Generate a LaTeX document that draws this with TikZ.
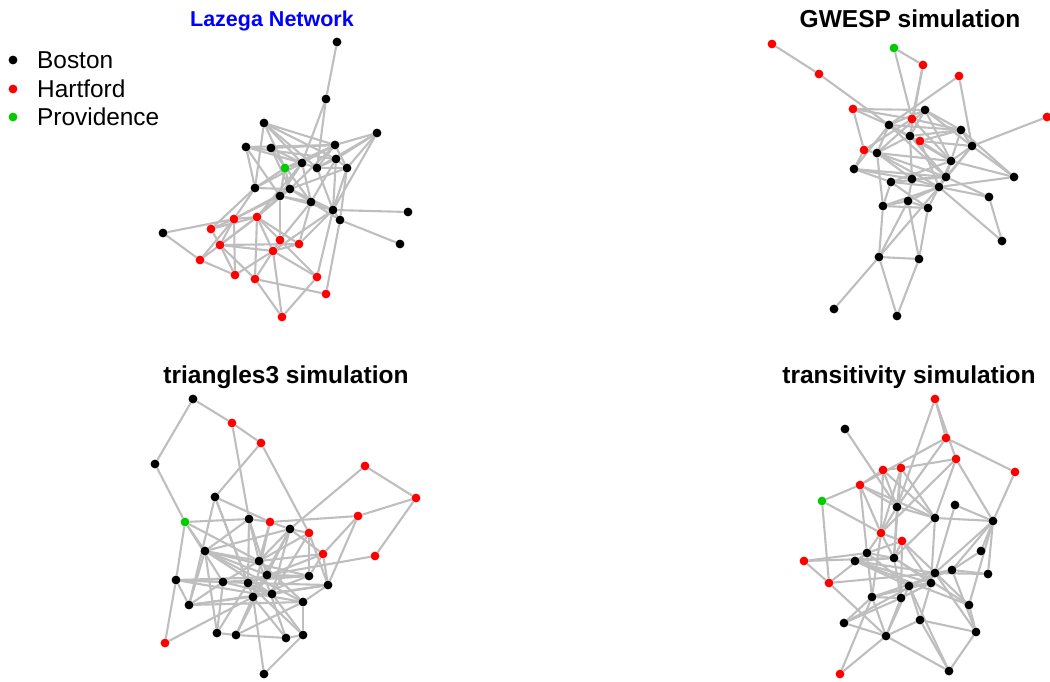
\documentclass[tikz,border=0pt]{standalone}
\usepackage{fontspec}
\setmainfont{Liberation Sans}
\pgfdeclarelayer{edges}
\pgfsetlayers{edges,main}
\definecolor{edgegray}{RGB}{190,190,190}
\definecolor{vred}{RGB}{255,0,0}
\definecolor{vgreen}{RGB}{0,205,0}
\definecolor{titleblue}{RGB}{0,0,255}
\tikzset{
  vtx/.style={circle,inner sep=0pt,minimum size=8.8pt,draw=none},
  tie/.style={draw=edgegray,line width=2.1pt},
  ptitle/.style={font=\fontsize{24.5}{28}\selectfont\bfseries,anchor=base,inner sep=0pt},
  legtext/.style={font=\fontsize{24.4}{28}\selectfont,anchor=base west,inner sep=0pt}
}
\begin{document}
\begin{tikzpicture}[x=1pt,y=-1pt]
\useasboundingbox (0,0) rectangle (1050,681);

% ---------- titles ----------
\node[ptitle,text=titleblue,font=\fontsize{21.5}{26}\selectfont\bfseries] (t1) at (272,26) {Lazega Network};
\node[ptitle] (t2) at (910,27) {GWESP simulation};
\node[ptitle] (t3) at (286,383) {triangles3 simulation};
\node[ptitle] (t4) at (909,383) {transitivity simulation};

% ---------- legend ----------
\node[vtx,fill=black] (lg1) at (13,60) {};
\node[vtx,fill=vred] (lg2) at (13,89) {};
\node[vtx,fill=vgreen] (lg3) at (13,117) {};
\node[legtext] (lt1) at (37,68) {Boston};
\node[legtext] (lt2) at (37,97) {Hartford};
\node[legtext] (lt3) at (37,125) {Providence};

% ---------- Lazega network ----------
\foreach \n/\x/\y/\c in {p1/337/42/black, p2/326/99/black, p3/264/123/black, p4/377/133/black,
  p5/246/147/black, p6/271/148/black, p7/335/145/black, p8/336/159/black, p9/302/163/black,
  p10/317/168/black, p11/347/168/black, p12/255/188/black, p13/290/189/black, p14/280/196/black,
  p15/311/202/black, p16/333/210/black, p17/340/220/black, p18/408/212/black, p19/400/244/black,
  p20/163/233/black, p21/285/168/vgreen, p22/234/219/vred, p23/257/217/vred, p24/211/229/vred,
  p25/220/245/vred, p26/280/240/vred, p27/299/244/vred, p28/273/251/vred, p29/200/260/vred,
  p30/235/275/vred, p31/255/279/vred, p32/317/277/vred, p33/326/294/vred, p34/282/317/vred}
  \node[vtx,fill=\c] (\n) at (\x,\y) {};
\begin{pgfonlayer}{edges}
\foreach \a/\b in {p1/p2, p2/p9, p2/p10, p3/p9, p3/p10, p3/p12, p3/p21, p3/p8, p4/p8, p4/p11,
  p4/p10, p5/p9, p5/p14, p5/p12, p5/p8, p6/p7, p6/p13, p6/p15, p7/p11, p7/p10, p7/p9, p7/p21,
  p7/p13, p18/p16, p19/p17, p20/p22, p20/p29, p34/p31, p34/p32, p34/p28, p33/p17, p31/p33,
  p32/p26, p32/p16, p32/p28, p29/p30, p29/p23, p29/p22, p30/p28, p30/p25, p30/p22, p31/p23,
  p31/p28, p31/p25, p28/p26, p28/p27, p28/p16, p28/p25, p28/p23, p26/p14, p26/p23, p26/p15,
  p27/p15, p27/p23, p27/p16, p27/p25, p24/p22, p24/p23, p24/p12, p24/p25, p22/p23, p22/p12,
  p22/p14, p22/p25, p22/p13, p25/p23, p23/p13, p23/p14, p23/p9, p12/p21, p12/p9, p14/p16,
  p14/p15, p13/p11, p13/p15, p15/p16, p15/p9, p15/p8, p15/p17, p16/p11, p16/p8, p16/p10,
  p16/p17, p17/p11, p21/p9, p21/p14, p9/p10, p10/p8, p8/p11, p10/p11, p5/p7, p6/p9, p3/p7,
  p12/p13, p14/p9, p13/p16, p21/p13, p4/p7, p4/p16}
  \draw[tie] (\a) -- (\b);
\end{pgfonlayer}

% ---------- GWESP simulation ----------
\foreach \n/\x/\y/\c in {q1/772/44/vred, q2/819/74/vred, q3/923/65/vred, q4/959/76/vred,
  q5/1047/117/vred, q6/853/109/vred, q7/912/119/vred, q8/920/141/vred, q9/864/150/vred,
  q10/894/48/vgreen, q11/925/110/black, q12/889/125/black, q13/961/130/black, q14/910/136/black,
  q15/972/146/black, q16/877/153/black, q17/951/161/black, q18/854/169/black, q19/1014/177/black,
  q20/891/182/black, q21/912/179/black, q22/946/177/black, q23/939/187/black, q24/989/197/black,
  q25/908/201/black, q26/883/206/black, q27/928/208/black, q28/1002/241/black, q29/879/257/black,
  q30/919/259/black, q31/834/309/black, q32/897/316/black}
  \node[vtx,fill=\c] (\n) at (\x,\y) {};
\begin{pgfonlayer}{edges}
\foreach \a/\b in {q1/q2, q2/q12, q10/q3, q10/q7, q3/q7, q3/q14, q4/q12, q4/q15, q5/q15,
  q6/q12, q6/q7, q6/q9, q15/q19, q15/q17, q15/q11, q15/q13, q15/q8, q15/q23, q19/q17, q19/q23,
  q19/q13, q24/q28, q24/q23, q24/q22, q28/q23, q29/q30, q29/q31, q29/q32, q30/q32, q29/q26,
  q29/q25, q29/q23, q30/q27, q30/q25, q26/q27, q26/q25, q26/q20, q26/q23, q26/q16, q27/q23,
  q27/q25, q27/q20, q25/q23, q25/q21, q18/q20, q18/q9, q18/q12, q18/q22, q18/q21, q12/q11,
  q12/q14, q12/q16, q12/q17, q11/q13, q11/q14, q11/q17, q13/q14, q13/q8, q13/q17, q14/q21,
  q14/q22, q14/q16, q8/q23, q16/q17, q16/q21, q16/q22, q9/q16, q9/q7, q7/q13, q7/q17, q20/q23,
  q21/q22, q22/q17, q23/q17, q20/q17, q15/q22, q12/q13, q11/q16, q14/q17, q16/q23, q20/q22,
  q21/q23, q12/q22, q8/q17, q6/q11}
  \draw[tie] (\a) -- (\b);
\end{pgfonlayer}

% ---------- triangles3 simulation ----------
\foreach \n/\x/\y/\c in {r1/193/399/black, r2/155/464/black, r3/215/497/black, r4/249/519/black,
  r5/290/529/black, r6/205/551/black, r7/259/561/black, r8/267/575/black, r9/309/576/black,
  r10/176/580/black, r11/223/582/black, r12/248/583/black, r13/328/585/black, r14/253/597/black,
  r15/272/594/black, r16/303/602/black, r17/189/605/black, r18/217/633/black, r19/236/635/black,
  r20/286/638/black, r21/303/635/black, r22/264/674/black, r23/232/423/vred, r24/261/443/vred,
  r25/365/466/vred, r26/416/498/vred, r27/270/522/vred, r28/358/516/vred, r29/309/533/vred,
  r30/323/554/vred, r31/375/556/vred, r32/165/643/vred, r33/185/522/vgreen}
  \node[vtx,fill=\c] (\n) at (\x,\y) {};
\begin{pgfonlayer}{edges}
\foreach \a/\b in {r1/r23, r23/r24, r1/r2, r2/r33, r23/r4, r24/r3, r24/r29, r25/r26, r25/r5,
  r26/r28, r26/r31, r28/r27, r28/r30, r28/r13, r33/r4, r33/r6, r33/r10, r33/r7, r33/r11, r3/r27,
  r3/r17, r3/r14, r3/r12, r31/r8, r6/r4, r6/r5, r6/r8, r6/r9, r6/r16, r6/r18, r6/r17, r6/r7,
  r10/r17, r10/r32, r10/r11, r10/r12, r10/r9, r32/r14, r17/r15, r17/r16, r17/r11, r11/r18,
  r11/r7, r11/r15, r18/r19, r19/r20, r20/r21, r21/r16, r19/r14, r19/r16, r18/r12, r19/r8,
  r22/r14, r22/r21, r20/r14, r20/r7, r21/r15, r21/r12, r13/r16, r13/r30, r13/r29, r13/r15,
  r9/r29, r9/r30, r9/r8, r9/r14, r30/r5, r30/r7, r30/r12, r7/r4, r7/r27, r7/r5, r7/r16, r7/r29,
  r8/r4, r8/r5, r8/r12, r12/r4, r12/r15, r12/r13, r14/r27, r14/r5, r15/r5, r15/r29, r27/r5,
  r27/r4, r5/r29, r6/r15, r10/r16, r17/r13, r11/r9}
  \draw[tie] (\a) -- (\b);
\end{pgfonlayer}

% ---------- transitivity simulation ----------
\foreach \n/\x/\y/\c in {s1/935/399/vred, s2/946/438/vred, s3/956/459/vred, s4/1015/472/vred,
  s5/883/470/vred, s6/901/468/vred, s7/860/485/vred, s8/881/533/vred, s9/902/541/vred,
  s10/804/561/vred, s11/829/583/vred, s12/840/674/vred, s13/822/501/vgreen, s14/845/429/black,
  s15/897/507/black, s16/955/505/black, s17/935/518/black, s18/993/521/black, s19/867/553/black,
  s20/855/561/black, s21/894/558/black, s22/981/551/black, s23/935/573/black, s24/952/570/black,
  s25/988/574/black, s26/909/586/black, s27/931/583/black, s28/872/597/black, s29/901/598/black,
  s30/969/605/black, s31/844/623/black, s32/920/620/black, s33/976/632/black, s34/886/636/black,
  s35/949/671/black}
  \node[vtx,fill=\c] (\n) at (\x,\y) {};
\begin{pgfonlayer}{edges}
\foreach \a/\b in {s1/s2, s1/s3, s1/s15, s14/s15, s2/s4, s2/s7, s2/s15, s3/s6, s3/s17, s3/s18,
  s3/s8, s4/s18, s5/s7, s5/s6, s5/s8, s5/s15, s5/s17, s6/s15, s6/s17, s6/s8, s6/s21, s7/s13,
  s7/s15, s7/s17, s7/s8, s7/s19, s13/s8, s13/s11, s15/s8, s15/s17, s17/s18, s17/s21, s16/s18,
  s16/s23, s18/s22, s18/s25, s18/s24, s18/s23, s18/s30, s10/s11, s10/s19, s10/s21, s11/s19,
  s11/s34, s11/s23, s12/s34, s12/s28, s34/s35, s34/s32, s34/s31, s34/s28, s34/s29, s34/s26,
  s35/s32, s35/s33, s35/s26, s33/s30, s33/s32, s33/s23, s33/s24, s32/s27, s32/s26, s31/s28,
  s31/s29, s31/s23, s28/s29, s28/s27, s28/s24, s28/s19, s29/s27, s29/s21, s26/s23, s26/s24,
  s26/s20, s23/s24, s23/s25, s24/s25, s24/s22, s20/s19, s20/s21, s20/s27, s20/s30, s19/s21,
  s19/s8, s19/s9, s21/s9, s21/s27, s21/s30, s8/s9, s8/s28, s8/s21, s9/s27, s9/s30, s9/s29,
  s15/s21, s17/s27, s26/s27, s19/s26, s20/s23}
  \draw[tie] (\a) -- (\b);
\end{pgfonlayer}
\end{tikzpicture}
\end{document}
